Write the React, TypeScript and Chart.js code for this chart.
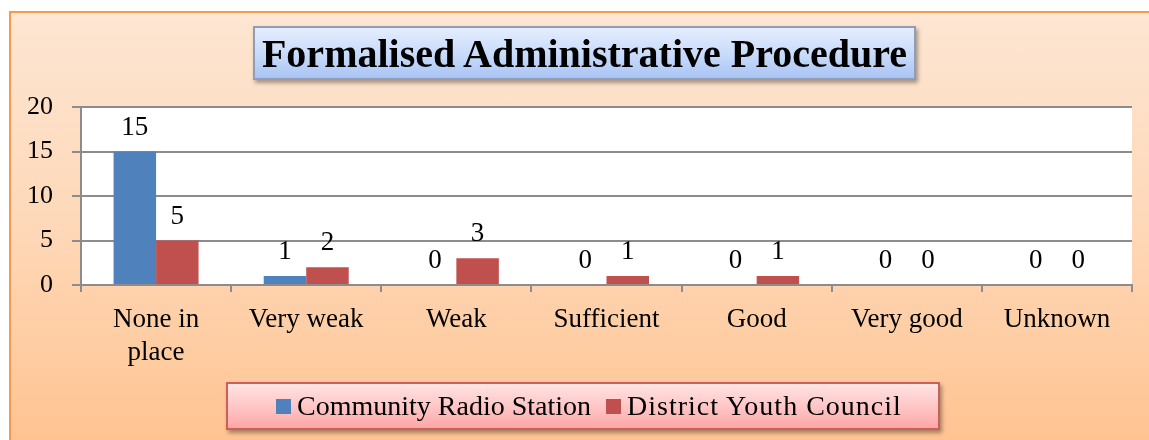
import React, { useEffect, useRef } from "react";
import { Chart, registerables } from "chart.js";

Chart.register(...registerables);

const chartTitle = "Formalised Administrative Procedure";
const categories: (string | string[])[] = [
  ["None in", "place"],
  "Very weak",
  "Weak",
  "Sufficient",
  "Good",
  "Very good",
  "Unknown",
];
const seriesNames = ["Community Radio Station", "District Youth Council"];
const communityRadioStation = [15, 1, 0, 0, 0, 0, 0];
const districtYouthCouncil = [5, 2, 3, 1, 1, 0, 0];
const seriesColors = ["#4F81BD", "#C0504D"];
const yTickValues = [0, 5, 10, 15, 20];

const FONT = "'Liberation Serif', 'Times New Roman', serif";
const GRID = "#8c8c8c";

const plotBackground = {
  id: "plotBackground",
  beforeDraw(chart: any) {
    const { ctx, chartArea } = chart;
    ctx.save();
    ctx.fillStyle = "#ffffff";
    ctx.fillRect(chartArea.left, chartArea.top, chartArea.right - chartArea.left, chartArea.bottom - chartArea.top);
    ctx.restore();
  },
};

const dataLabels = {
  id: "dataLabels",
  afterDatasetsDraw(chart: any) {
    const { ctx } = chart;
    ctx.save();
    ctx.fillStyle = "#000";
    ctx.font = `27px ${FONT}`;
    ctx.textAlign = "center";
    ctx.textBaseline = "middle";
    chart.data.datasets.forEach((ds: any, di: number) => {
      const meta = chart.getDatasetMeta(di);
      meta.data.forEach((bar: any, i: number) => {
        ctx.fillText(String(ds.data[i]), bar.x, bar.y - 24);
      });
    });
    ctx.restore();
  },
};

function ChartCanvas() {
  const ref = useRef<HTMLCanvasElement>(null);
  useEffect(() => {
    if (!ref.current) return;
    const chart = new Chart(ref.current, {
      type: "bar",
      data: {
        labels: categories,
        datasets: [
          { label: seriesNames[0], data: communityRadioStation, backgroundColor: seriesColors[0] },
          { label: seriesNames[1], data: districtYouthCouncil, backgroundColor: seriesColors[1] },
        ],
      },
      options: {
        responsive: false,
        animation: false,
        events: [],
        layout: { padding: { top: 107, left: 0, right: 17, bottom: 55 } },
        datasets: { bar: { categoryPercentage: 0.566, barPercentage: 1 } },
        plugins: { legend: { display: false }, title: { display: false }, tooltip: { enabled: false } },
        scales: {
          x: {
            grid: { offset: true, drawOnChartArea: false, tickLength: 7, color: GRID, lineWidth: 2 },
            border: { color: GRID, width: 2 },
            ticks: { padding: 12, color: "#000", maxRotation: 0, autoSkip: false, font: { family: FONT, size: 27 } },
            afterFit: (s: any) => {
              s.height = 100;
            },
          },
          y: {
            min: 0,
            max: 20,
            afterBuildTicks: (s: any) => {
              s.ticks = yTickValues.map((v) => ({ value: v }));
            },
            grid: { color: GRID, lineWidth: 2, tickLength: 9 },
            border: { color: GRID, width: 2 },
            ticks: { padding: 19, color: "#000", font: { family: FONT, size: 26 } },
            afterFit: (s: any) => {
              s.width = 81;
            },
          },
        },
      },
      plugins: [plotBackground, dataLabels],
    });
    return () => chart.destroy();
  }, []);
  return <canvas ref={ref} width={1149} height={440} style={{ position: "absolute", left: 0, top: 0 }} />;
}

export default function App() {
  return (
    <div style={{ position: "absolute", left: 0, top: 0, width: 1149, height: 440, overflow: "hidden", background: "#fff" }}>
      <div
        style={{
          position: "absolute",
          left: 9,
          top: 11,
          width: 1160,
          height: 450,
          borderLeft: "2px solid #F79A4E",
          borderTop: "2px solid #F79A4E",
          background: "linear-gradient(to bottom, #FDE6D3 0%, #FED7B6 50%, #FFC18D 100%)",
        }}
      />
      <ChartCanvas />
      <div
        style={{
          position: "absolute",
          left: 253,
          top: 26,
          width: 659,
          height: 50,
          border: "2px solid #8E9DB8",
          background: "linear-gradient(to bottom, #E4EDFD 0%, #C7DAFA 55%, #A9C4F4 100%)",
          boxShadow: "2px 3px 4px rgba(0,0,0,0.35)",
          display: "flex",
          alignItems: "center",
          justifyContent: "center",
          fontFamily: FONT,
          fontWeight: "bold",
          fontSize: 40,
          color: "#000",
          whiteSpace: "nowrap",
        }}
      >
        {chartTitle}
      </div>
      <div
        style={{
          position: "absolute",
          left: 226,
          top: 382,
          width: 710,
          height: 44,
          border: "2px solid #C9605C",
          background: "linear-gradient(to bottom, #FFE3E3 0%, #FFC4C4 55%, #FFA6A6 100%)",
          boxShadow: "2px 3px 4px rgba(0,0,0,0.35)",
          fontFamily: FONT,
          fontSize: 28,
          color: "#000",
        }}
      >
        {seriesNames.map((name, i) => (
          <div key={name} style={{ position: "absolute", left: i === 0 ? 48 : 378, top: 0, height: 44, display: "flex", alignItems: "center", whiteSpace: "nowrap" }}>
            <span style={{ display: "inline-block", width: 15, height: 15, background: seriesColors[i], marginRight: 6 }} />
            <span style={{ letterSpacing: i === 1 ? 1 : 0 }}>{name}</span>
          </div>
        ))}
      </div>
    </div>
  );
}
